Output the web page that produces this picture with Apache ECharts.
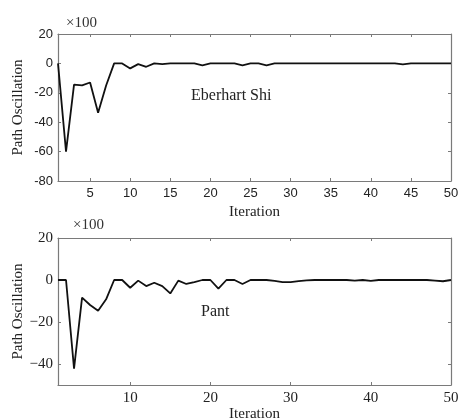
<!DOCTYPE html>
<html>
<head>
<meta charset="utf-8">
<script src="https://cdn.jsdelivr.net/npm/echarts@6/dist/echarts.min.js"></script>
<style>
  html, body { margin: 0; padding: 0; background: #fff; }
  #chart { width: 458px; height: 419px; }
</style>
</head>
<body>
<div id="chart"></div>
<script>
// Iteration index shared by both panels
const iterations = Array.from({ length: 50 }, (_, i) => i + 1);

// Path oscillation (units of 100) for the Eberhart Shi weighting
const eberhartShi = [
  0, -60, -14.5, -15, -13, -33.5, -15, 0, 0, -3.4,
  -0.5, -2.3, 0, -0.5, 0, 0, 0, 0, -1.4, 0,
  0, 0, 0, -1.3, 0, 0, -1.3, 0, 0, 0,
  0, 0, 0, 0, 0, 0, 0, 0, 0, 0,
  0, 0, 0, -0.7, 0, 0, 0, 0, 0, 0
];

// Path oscillation (units of 100) for the Pant weighting
const pant = [
  0, 0, -42.2, -8.4, -11.9, -14.6, -9.2, 0, 0, -3.7,
  -0.3, -2.9, -1.3, -2.9, -6.4, -0.3, -1.9, -1, 0, 0,
  -4.1, 0, 0, -1.9, 0, 0, 0, -0.4, -1, -1,
  -0.5, -0.2, 0, 0, 0, 0, 0, -0.3, 0, -0.4,
  0, 0, 0, 0, 0, 0, 0, -0.3, -0.6, 0
];

// Tick positions
const topXTicks = [5, 10, 15, 20, 25, 30, 35, 40, 45, 50];
const bottomXTicks = [10, 20, 30, 40, 50];
const topYTicks = [-80, -60, -40, -20, 0, 20];
const bottomYTicks = [-40, -20, 0, 20];

const frame = '#7a7a7a';
const serif = '"Liberation Serif", "DejaVu Serif", serif';
const sans = '"Liberation Sans", Arial, sans-serif';

function pairs(ys) { return iterations.map((x, i) => [x, ys[i]]); }

function xAxes(gridIndex, ticks, labelFont, labelSize, nameGap) {
  const base = {
    type: 'value', gridIndex, min: 1, max: 50,
    axisLine: { show: true, onZero: false, lineStyle: { color: frame, width: 1.2 } },
    splitLine: { show: false }
  };
  return [
    Object.assign({}, base, {
      position: 'bottom',
      axisTick: { show: true, inside: true, length: 3, customValues: ticks, lineStyle: { color: frame } },
      axisLabel: { customValues: ticks, color: '#222', fontFamily: labelFont, fontSize: labelSize, margin: 6 },
      name: 'Iteration', nameLocation: 'middle', nameGap,
      nameTextStyle: { fontFamily: serif, fontSize: 15, color: '#222' }
    }),
    Object.assign({}, base, {
      position: 'top',
      axisTick: { show: true, inside: true, length: 3, customValues: ticks, lineStyle: { color: frame } },
      axisLabel: { show: false }
    })
  ];
}

function yAxes(gridIndex, min, max, ticks, labelFont, labelSize, minusChar) {
  const base = {
    type: 'value', gridIndex, min, max,
    axisLine: { show: true, onZero: false, lineStyle: { color: frame, width: 1.2 } },
    axisTick: { show: true, inside: true, length: 3, customValues: ticks, lineStyle: { color: frame } },
    splitLine: { show: false }
  };
  return [
    Object.assign({}, base, {
      position: 'left',
      axisLabel: {
        customValues: ticks,
        color: '#222', fontFamily: labelFont, fontSize: labelSize, margin: 5,
        formatter: v => (v < 0 ? minusChar + Math.abs(v) : String(v))
      },
      name: 'Path Oscillation', nameLocation: 'middle', nameGap: 32, nameMoveOverlap: false,
      nameTextStyle: { fontFamily: serif, fontSize: 15, color: '#222' }
    }),
    Object.assign({}, base, { position: 'right', axisLabel: { show: false } })
  ];
}

const chart = echarts.init(document.getElementById('chart'), null, { renderer: 'canvas' });

chart.setOption({
  animation: false,
  backgroundColor: '#fff',
  grid: [
    { left: 58, right: 7, top: 34, height: 147, outerBoundsMode: 'none', containLabel: false },
    { left: 58, right: 7, top: 238, height: 147, outerBoundsMode: 'none', containLabel: false }
  ],
  xAxis: [
    ...xAxes(0, topXTicks, sans, 13, 24),
    ...xAxes(1, bottomXTicks, serif, 15, 21)
  ],
  yAxis: [
    ...yAxes(0, -80, 20, topYTicks, sans, 13, '-'),
    ...yAxes(1, -50, 20, bottomYTicks, serif, 15, '\u2212')
  ],
  series: [
    {
      type: 'line', xAxisIndex: 0, yAxisIndex: 0, data: pairs(eberhartShi),
      showSymbol: false, lineStyle: { color: '#111', width: 1.8 }
    },
    {
      type: 'line', xAxisIndex: 2, yAxisIndex: 2, data: pairs(pant),
      showSymbol: false, lineStyle: { color: '#111', width: 1.8 }
    }
  ],
  graphic: [
    { type: 'text', left: 66, top: 16, style: { text: '\u00d7100', font: '15px ' + serif, fill: '#333' } },
    { type: 'text', left: 73, top: 218, style: { text: '\u00d7100', font: '15px ' + serif, fill: '#333' } },
    { type: 'text', left: 191, top: 88, style: { text: 'Eberhart Shi', font: '16px ' + serif, fill: '#222' } },
    { type: 'text', left: 201, top: 304, style: { text: 'Pant', font: '16px ' + serif, fill: '#222' } }
  ]
});
</script>
</body>
</html>
